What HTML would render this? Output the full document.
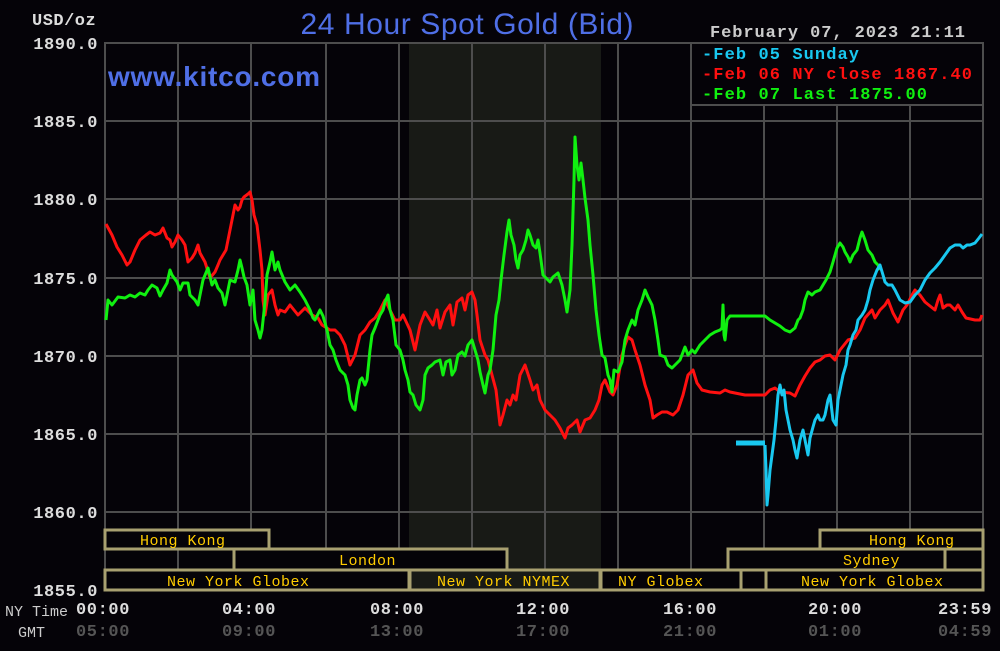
<!DOCTYPE html>
<html><head><meta charset="utf-8"><style>
html,body{margin:0;padding:0;background:#050308;}
svg{display:block}
text{font-family:"Liberation Mono",monospace;}
</style></head><body>
<svg width="1000" height="651" viewBox="0 0 1000 651" xmlns="http://www.w3.org/2000/svg">
<rect width="1000" height="651" fill="#050308"/>
<rect x="409" y="43" width="192" height="547" fill="#181a16"/>
<g stroke="#4d4d4d" stroke-width="2">
<line x1="178" y1="43" x2="178" y2="590"/><line x1="251" y1="43" x2="251" y2="590"/>
<line x1="326" y1="43" x2="326" y2="590"/><line x1="399" y1="43" x2="399" y2="590"/>
<line x1="472" y1="43" x2="472" y2="590"/><line x1="545" y1="43" x2="545" y2="590"/>
<line x1="618" y1="43" x2="618" y2="590"/><line x1="691" y1="43" x2="691" y2="590"/>
<line x1="764" y1="105" x2="764" y2="590"/><line x1="837" y1="105" x2="837" y2="590"/>
<line x1="910" y1="105" x2="910" y2="590"/>
<line x1="105" y1="121" x2="983" y2="121"/><line x1="105" y1="199" x2="983" y2="199"/>
<line x1="105" y1="278" x2="983" y2="278"/><line x1="105" y1="356" x2="983" y2="356"/>
<line x1="105" y1="434" x2="983" y2="434"/><line x1="105" y1="512" x2="983" y2="512"/>
<line x1="691" y1="105" x2="983" y2="105"/>
<rect x="105" y="43" width="878" height="547" fill="none"/>
</g>
<g fill="#dddddd" font-size="17" font-weight="bold" text-anchor="end" letter-spacing="0.6">
<text x="98" y="49">1890.0</text><text x="98" y="127">1885.0</text><text x="98" y="205">1880.0</text>
<text x="98" y="284">1875.0</text><text x="98" y="362">1870.0</text><text x="98" y="440">1865.0</text>
<text x="98" y="518">1860.0</text><text x="98" y="596">1855.0</text>
</g>
<text x="32" y="25" fill="#dddddd" font-size="17" font-weight="bold" letter-spacing="0.5">USD/oz</text>
<text x="467" y="34" fill="#4f6fe6" font-size="30" text-anchor="middle" textLength="333" style="font-family:'Liberation Sans',sans-serif">24 Hour Spot Gold (Bid)</text>
<text x="108" y="86" fill="#4f6fe6" font-size="28" font-weight="bold" textLength="212" style="font-family:'Liberation Sans',sans-serif">www.kitco.com</text>
<text x="710" y="37" fill="#cccccc" font-size="17" font-weight="bold" textLength="255">February 07, 2023 21:11</text>
<g font-size="17" font-weight="bold">
<text x="702" y="59" fill="#19c8f0" textLength="157">-Feb 05 Sunday</text>
<text x="702" y="79" fill="#ff1010" textLength="270">-Feb 06 NY close 1867.40</text>
<text x="702" y="99" fill="#10f010" textLength="225">-Feb 07 Last 1875.00</text>
</g>
<g fill="#050308" stroke="#a8a070" stroke-width="3">
<rect x="105" y="530" width="164" height="19"/>
<rect x="234" y="549" width="273" height="21"/>
<rect x="105" y="570" width="304" height="20"/>
<rect x="410" y="570" width="190" height="20" fill="#181a16"/>
<rect x="601" y="570" width="140" height="20"/>
<rect x="741" y="569" width="25" height="21"/>
<rect x="766" y="570" width="217" height="20"/>
<rect x="728" y="549" width="255" height="21"/>
<rect x="820" y="530" width="163" height="19"/>
</g>
<line x1="945" y1="549" x2="945" y2="570" stroke="#a8a070" stroke-width="3"/>
<g fill="#ffcc00" font-size="15" letter-spacing="0.5">
<text x="140" y="545">Hong Kong</text><text x="339" y="565">London</text>
<text x="167" y="586">New York Globex</text><text x="437" y="586">New York NYMEX</text>
<text x="618" y="586">NY Globex</text><text x="801" y="586">New York Globex</text>
<text x="843" y="565">Sydney</text><text x="869" y="545">Hong Kong</text>
</g>
<g font-size="17" font-weight="bold" text-anchor="middle" letter-spacing="0.6">
<text x="103" y="614" fill="#dddddd">00:00</text><text x="249" y="614" fill="#dddddd">04:00</text>
<text x="397" y="614" fill="#dddddd">08:00</text><text x="543" y="614" fill="#dddddd">12:00</text>
<text x="690" y="614" fill="#dddddd">16:00</text><text x="835" y="614" fill="#dddddd">20:00</text>
<text x="965" y="614" fill="#dddddd">23:59</text>
<text x="103" y="636" fill="#555">05:00</text><text x="249" y="636" fill="#555">09:00</text>
<text x="397" y="636" fill="#555">13:00</text><text x="543" y="636" fill="#555">17:00</text>
<text x="690" y="636" fill="#555">21:00</text><text x="835" y="636" fill="#555">01:00</text>
<text x="965" y="636" fill="#555">04:59</text>
</g>
<text x="5" y="616" fill="#cccccc" font-size="15">NY Time</text>
<text x="18" y="637" fill="#cccccc" font-size="15">GMT</text>
<g fill="none" stroke-width="3" stroke-linejoin="round">
<polyline stroke="#ff1010" points="106,224 112,235 117,247 122,255 127,265 130,262 135,250 140,240 146,235 150,232 155,235 160,233 163,228 167,238 170,240 172,247 175,242 178,235 182,240 185,245 188,262 192,258 195,253 198,245 200,253 205,262 210,278 215,272 218,265 220,260 226,250 229,235 233,215 235,205 238,210 240,207 242,200 244,197 248,194 250,192 252,200 254,215 257,225 260,250 262,270 263,300 265,315 268,295 272,290 275,305 278,315 280,310 285,312 290,305 298,315 305,308 312,315 318,318 322,325 330,330 335,330 340,335 345,345 350,365 355,355 360,335 365,330 370,322 375,318 380,310 385,300 390,310 395,320 400,320 403,315 410,330 415,350 420,325 425,312 430,320 433,325 437,310 440,328 445,312 450,305 453,325 457,302 462,298 465,310 468,295 472,292 475,300 477,315 480,340 485,355 488,360 492,375 496,390 500,425 503,415 507,400 510,405 513,395 516,400 520,375 525,365 530,380 533,390 537,385 540,400 545,410 550,415 555,420 560,428 565,438 568,428 572,425 577,420 580,432 585,420 590,418 595,410 599,400 602,385 605,380 610,392 613,395 617,385 622,355 625,345 628,337 632,340 635,350 640,365 645,385 650,400 653,418 657,415 662,412 667,412 673,415 678,410 683,395 688,375 693,370 697,383 702,390 710,392 720,393 725,390 730,392 735,393 745,395 765,395 770,390 775,388 780,392 790,393 795,396 800,385 805,376 810,368 815,362 820,360 825,356 830,355 835,360 840,350 848,340 855,338 860,330 865,318 872,310 875,318 880,310 885,305 888,300 893,313 898,322 903,310 907,305 912,295 915,290 920,295 925,302 930,306 935,310 938,300 940,295 943,308 947,305 950,305 955,310 958,305 962,312 966,318 975,320 980,320 982,315"/>
<polyline stroke="#10f010" points="106,320 108,300 112,305 118,297 125,298 130,295 135,297 140,293 145,295 148,290 152,285 157,288 160,296 163,290 167,283 170,270 172,275 177,282 180,290 183,283 188,283 190,295 195,300 198,305 200,295 203,280 208,268 212,285 215,280 218,288 222,293 225,305 228,290 230,280 235,282 238,270 240,260 242,268 244,277 247,285 250,305 253,290 255,320 258,330 260,338 262,330 265,302 267,275 270,262 272,252 275,270 278,262 280,270 285,282 290,290 295,285 300,292 305,300 310,310 313,318 315,320 320,310 323,316 327,330 330,345 333,350 336,360 340,370 345,375 348,385 350,400 353,408 355,410 357,395 360,380 362,378 365,385 367,380 370,350 372,335 375,328 378,320 380,315 383,310 385,302 388,295 390,310 393,320 396,345 400,350 403,360 405,370 408,380 410,392 413,395 416,405 420,410 423,400 425,375 428,368 432,365 435,362 440,360 443,375 446,362 450,360 452,375 455,370 458,355 462,352 465,356 468,345 472,340 475,350 478,360 480,372 483,385 485,393 488,375 490,370 493,350 496,315 499,300 501,280 504,255 507,232 509,220 511,235 514,245 516,260 518,268 520,255 523,250 526,240 528,230 530,235 533,245 536,248 538,240 540,253 543,275 546,278 550,282 553,277 558,273 562,285 565,300 567,312 570,290 572,245 574,180 575,137 577,165 579,180 581,163 583,180 585,198 588,220 590,245 593,275 596,310 599,335 602,355 605,358 608,375 610,380 612,392 614,370 618,372 622,362 625,340 628,330 632,320 635,325 638,310 642,300 645,290 648,297 652,305 655,320 658,340 660,355 665,357 668,365 672,368 675,365 680,360 685,347 688,355 692,350 695,353 700,345 705,340 710,335 715,332 720,330 722,328 723,305 724,335 725,340 727,320 730,316 765,316 770,320 775,323 780,326 785,330 790,332 795,328 798,320 800,318 803,310 805,300 808,292 812,295 815,292 820,290 823,285 826,280 830,272 833,262 835,255 837,248 840,243 843,247 845,252 848,257 850,262 853,255 857,250 860,238 862,232 865,240 868,250 872,255 875,262 878,265 880,270"/>
<polyline stroke="#19c8f0" points="765,445 766,470 767,505 768,495 770,470 772,455 774,440 776,420 778,395 780,385 782,395 784,390 786,410 788,420 790,430 793,440 795,450 797,458 800,440 803,430 806,445 808,455 810,438 813,427 815,420 818,415 820,420 823,420 825,415 828,400 830,395 833,420 836,425 838,400 840,390 843,375 846,365 848,350 850,345 853,335 856,330 858,320 862,315 865,310 868,300 870,290 873,280 877,270 880,265 883,275 885,282 888,285 892,285 895,290 900,300 905,303 910,302 915,295 920,290 925,280 930,273 935,268 940,262 945,255 950,248 955,245 960,245 963,248 967,245 970,245 975,243 979,238 982,234"/>
</g>
<line x1="736" y1="443" x2="765" y2="443" stroke="#19c8f0" stroke-width="5"/>
</svg>
</body></html>
